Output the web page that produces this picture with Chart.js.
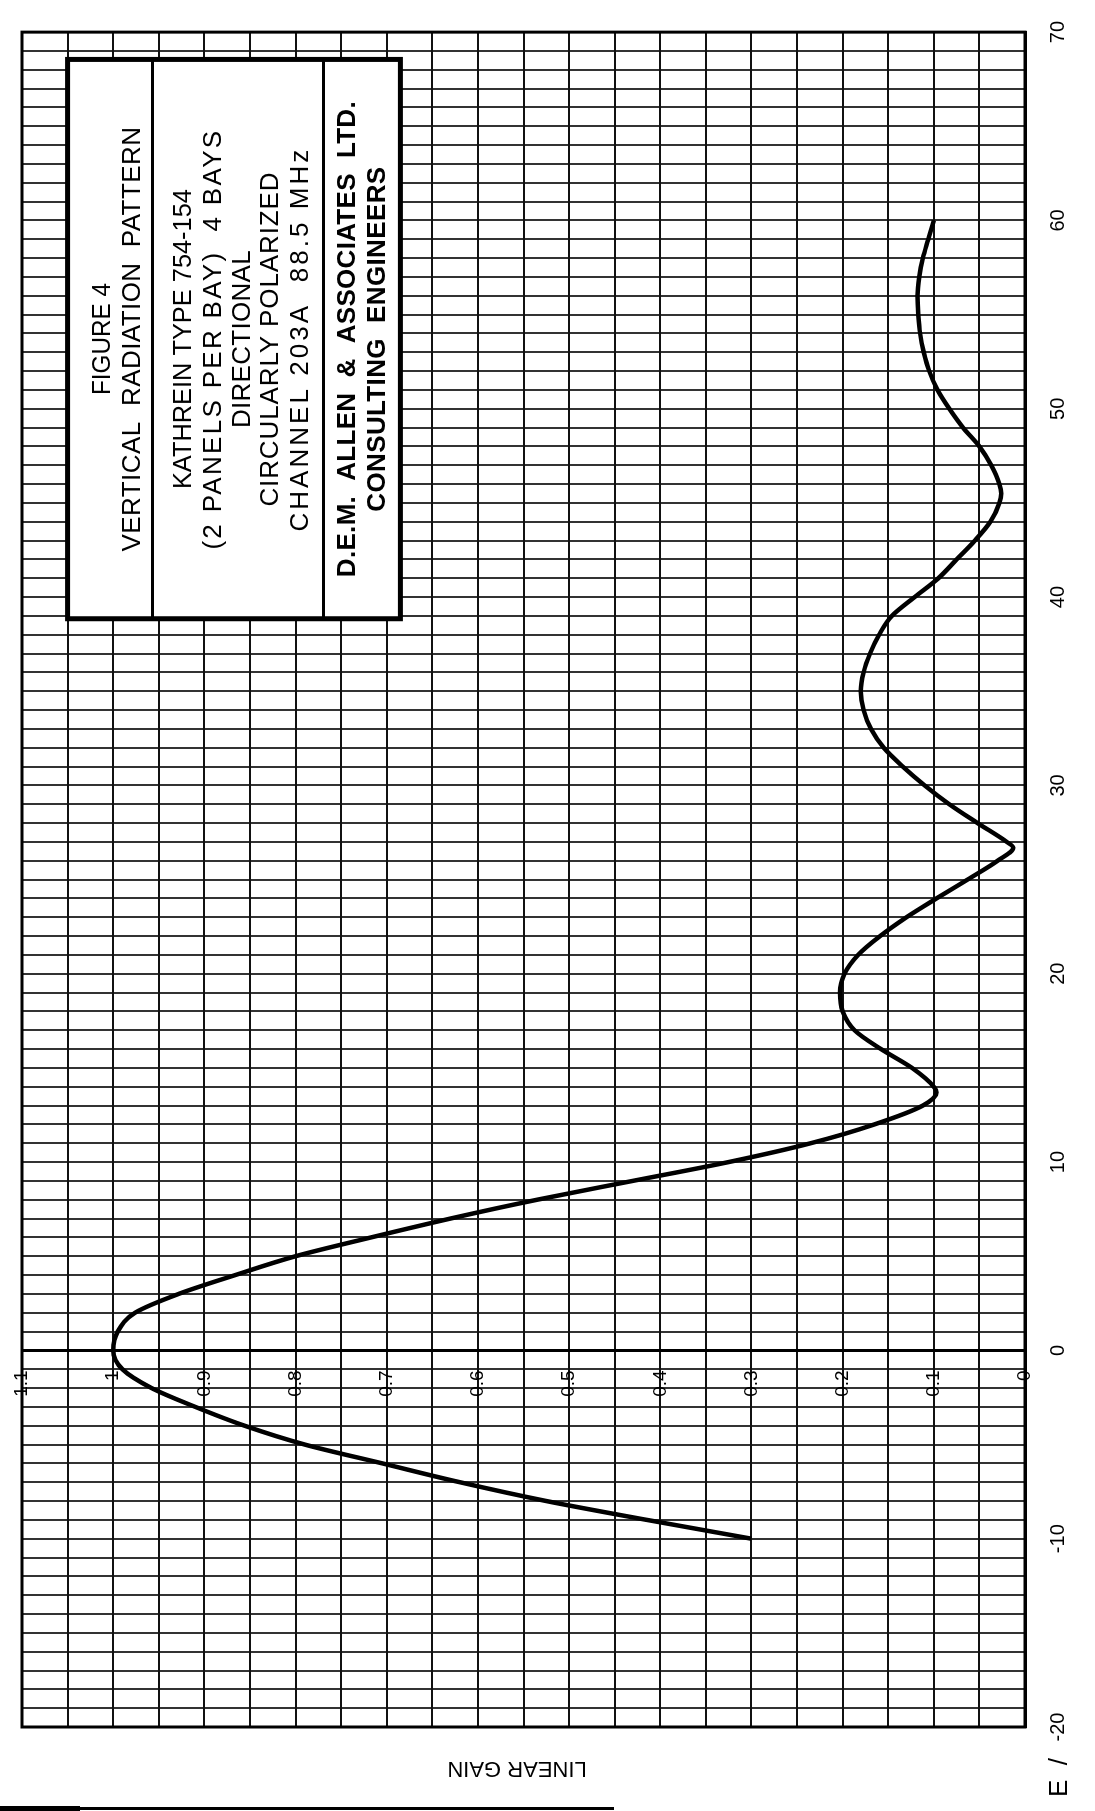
<!DOCTYPE html>
<html>
<head>
<meta charset="utf-8">
<script src="https://cdn.jsdelivr.net/npm/chart.js@4.4.0/dist/chart.umd.min.js"></script>
<style>
  html, body { margin: 0; padding: 0; background: #fff; overflow: hidden; }
  /* the sheet is drawn landscape and turned a quarter turn to the left */
  #page { position: absolute; left: 0; top: 0; width: 1811px; height: 1095px;
          transform-origin: 0 0; transform: translateY(1811px) rotate(-90deg); }
</style>
</head>
<body>
<div id="page"><canvas id="chart" width="1811" height="1095"></canvas></div>
<script>
// elevation angle (degrees) and relative field (linear gain)
var angles = [-10, -9, -8, -7, -6, -5, -4, -3, -2, -1, 0, 1, 2, 3, 4, 5, 6, 7, 8, 9,
  10, 11, 12, 13, 13.7, 14, 15, 16, 17, 18, 19, 20, 21, 22, 23, 24, 25, 26, 26.7, 27,
  28, 29, 30, 31, 32, 33, 34, 35, 36, 37, 38, 39, 40, 41, 42, 43, 44, 45, 45.5, 46,
  47, 48, 49, 50, 51, 52, 53, 54, 55, 56, 57, 58, 59, 60];
var gains = [0.30, 0.415, 0.525, 0.62, 0.705, 0.79, 0.856, 0.91, 0.958, 0.99, 1.0, 0.995, 0.976, 0.928, 0.866, 0.80, 0.717, 0.63, 0.535, 0.43,
  0.325, 0.235, 0.165, 0.112, 0.097, 0.10, 0.124, 0.158, 0.187, 0.20, 0.203, 0.198, 0.183, 0.159, 0.13, 0.097, 0.063, 0.03, 0.013, 0.02,
  0.052, 0.083, 0.11, 0.134, 0.155, 0.169, 0.177, 0.18, 0.177, 0.17, 0.16, 0.146, 0.121, 0.095, 0.075, 0.055, 0.038, 0.028, 0.026, 0.028,
  0.037, 0.05, 0.068, 0.083, 0.096, 0.105, 0.111, 0.115, 0.117, 0.118, 0.116, 0.112, 0.106, 0.10];

var angleLabels = [-20, -10, 0, 10, 20, 30, 40, 50, 60, 70];
var gainLabels = [0, 0.1, 0.2, 0.3, 0.4, 0.5, 0.6, 0.7, 0.8, 0.9, 1, 1.1];

var titleLines = [
  'FIGURE 4',
  'VERTICAL  RADIATION  PATTERN',
  'KATHREIN TYPE 754-154',
  '(2 PANELS PER BAY)  4 BAYS',
  'DIRECTIONAL',
  'CIRCULARLY POLARIZED',
  'CHANNEL 203A  88.5 MHz',
  'D.E.M.  ALLEN  &  ASSOCIATES  LTD.',
  'CONSULTING  ENGINEERS'
];
var titleBold = [false, false, false, false, false, false, false, true, true];

var FONT = '"Liberation Sans", Arial, sans-serif';
Chart.defaults.font.family = FONT;
Chart.defaults.color = '#000';

var points = angles.map(function(a, i) { return { x: a, y: gains[i] }; });

// draw a line of text stretched or squeezed to a given length
function fitText(ctx, t, x, y, w) {
  var nat = ctx.measureText(t).width;
  if (nat > w) {
    ctx.fillText(t, x, y, w);
  } else {
    ctx.letterSpacing = ((w - nat) / t.length).toFixed(2) + 'px';
    ctx.fillText(t, x, y);
    ctx.letterSpacing = '0px';
  }
}

// frame, gain labels, title block and loose labels
var decor = {
  id: 'decor',
  afterDraw: function(chart) {
    var ctx = chart.ctx, a = chart.chartArea;
    var xs = chart.scales.x, ys = chart.scales.y;
    ctx.save();
    ctx.strokeStyle = '#000';
    ctx.fillStyle = '#000';
    ctx.lineWidth = 3;
    ctx.strokeRect(a.left, a.top, a.right - a.left, a.bottom - a.top);

    // gain labels beside the 0 degree axis
    ctx.font = '19px ' + FONT;
    ctx.textAlign = 'right';
    ctx.textBaseline = 'middle';
    var ax = xs.getPixelForValue(0) - 20;
    gainLabels.forEach(function(g) {
      ctx.fillText(String(g), ax, ys.getPixelForValue(g));
    });

    // title block
    var bl = xs.getPixelForValue(38.85), br = xs.getPixelForValue(68.55);
    var bt = ys.getPixelForValue(1.05), bb = ys.getPixelForValue(0.685);
    ctx.fillStyle = '#fff';
    ctx.fillRect(bl, bt, br - bl, bb - bt);
    ctx.lineWidth = 5;
    ctx.strokeRect(bl, bt, br - bl, bb - bt);
    ctx.lineWidth = 3;
    [85, 256].forEach(function(o) {
      ctx.beginPath();
      ctx.moveTo(bl, bt + o);
      ctx.lineTo(br, bt + o);
      ctx.stroke();
    });

    var offs = [35, 65, 116, 146, 175, 203, 233, 280, 310];
    var lens = [112, 425, 300, 421, 178, 335, 385, 476, 345];
    var cx = (bl + br) / 2;
    ctx.fillStyle = '#000';
    ctx.textAlign = 'center';
    titleLines.forEach(function(t, i) {
      ctx.font = (titleBold[i] ? 'bold ' : '') + '26px ' + FONT;
      fitText(ctx, t, cx, bt + offs[i], lens[i]);
    });

    // axis title and corner note
    ctx.font = '22px ' + FONT;
    ctx.save();
    ctx.translate(43, a.top + 495);
    ctx.rotate(-Math.PI / 2);
    ctx.fillText('LINEAR GAIN', 0, 0);
    ctx.restore();

    ctx.textAlign = 'left';
    ctx.font = '26px ' + FONT;
    ctx.fillText('E  /', 14, a.bottom + 35);

    // dark edge of the scanned sheet
    ctx.fillRect(1, 0, 3, 614);
    ctx.fillRect(0, 0, 5, 80);
    ctx.restore();
  }
};

new Chart(document.getElementById('chart'), {
  type: 'line',
  data: {
    datasets: [{
      data: points,
      borderColor: '#000',
      borderWidth: 4.5,
      pointRadius: 0,
      fill: false,
      cubicInterpolationMode: 'monotone'
    }]
  },
  options: {
    responsive: false,
    devicePixelRatio: 1,
    animation: false,
    layout: { padding: { left: 84, right: 20, top: 22, bottom: 0 } },
    plugins: { legend: { display: false }, tooltip: { enabled: false } },
    scales: {
      x: {
        type: 'linear',
        min: -20,
        max: 70,
        afterFit: function(s) { s.height = 70; },
        ticks: {
          stepSize: 1,
          autoSkip: false,
          maxRotation: 0,
          padding: 21,
          font: { size: 20 },
          callback: function(v) { return angleLabels.indexOf(v) >= 0 ? String(v) : ''; }
        },
        grid: { color: '#333', lineWidth: 2, drawTicks: false },
        border: { color: '#000', width: 3 }
      },
      y: {
        type: 'linear',
        position: { x: 0 },
        min: 0,
        max: 1.1,
        ticks: { stepSize: 0.05, autoSkip: false, display: false },
        grid: { color: '#111', lineWidth: 2, drawTicks: false },
        border: { color: '#000', width: 3 }
      }
    }
  },
  plugins: [decor]
});
</script>
</body>
</html>
